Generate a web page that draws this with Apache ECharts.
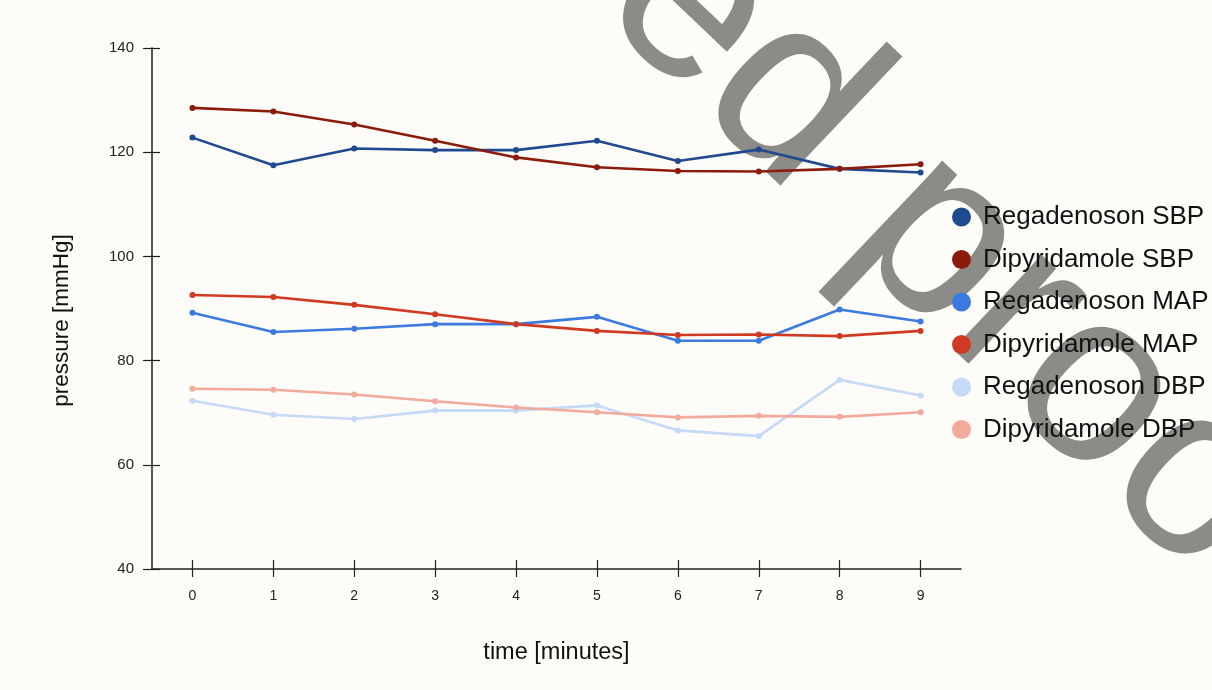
<!DOCTYPE html>
<html>
<head>
<meta charset="utf-8">
<script src="https://cdn.jsdelivr.net/npm/echarts@6/dist/echarts.min.js"></script>
<style>
  html, body { margin: 0; padding: 0; background: #fdfcf8; }
  #chart { width: 1212px; height: 690px; }
</style>
</head>
<body>
<div id="chart"></div>
<script>
// time points (minutes)
const minutes = ['0', '1', '2', '3', '4', '5', '6', '7', '8', '9'];

// pressure values (mmHg)
const regaSBP = [122.8, 117.5, 120.7, 120.4, 120.4, 122.2, 118.3, 120.5, 116.8, 116.1];
const dipySBP = [128.5, 127.8, 125.3, 122.2, 119.0, 117.1, 116.4, 116.3, 116.8, 117.7];
const regaMAP = [89.2, 85.5, 86.1, 87.0, 87.0, 88.4, 83.8, 83.8, 89.8, 87.5];
const dipyMAP = [92.6, 92.2, 90.7, 88.9, 87.0, 85.7, 84.9, 85.0, 84.7, 85.7];
const regaDBP = [72.3, 69.6, 68.8, 70.4, 70.4, 71.4, 66.6, 65.5, 76.3, 73.3];
const dipyDBP = [74.6, 74.4, 73.5, 72.2, 71.0, 70.1, 69.1, 69.4, 69.2, 70.1];

const seriesNames = [
    'Regadenoson SBP', 'Dipyridamole SBP',
    'Regadenoson MAP', 'Dipyridamole MAP',
    'Regadenoson DBP', 'Dipyridamole DBP',
];
const seriesData = [regaSBP, dipySBP, regaMAP, dipyMAP, regaDBP, dipyDBP];
const seriesColors = ['#1f4a8f', '#8b1c0c', '#3c7ae0', '#cf3a22', '#c6d9f7', '#f2aa9c'];

const chart = echarts.init(document.getElementById('chart'), null, { renderer: 'canvas' });

const FONT = 'Liberation Sans, Arial, sans-serif';
const AXIS_COLOR = '#222';

// shared axis look; a second copy of each axis carries the inward half of the ticks
const xBase = {
    type: 'category',
    data: minutes,
    boundaryGap: true,
    splitLine: { show: false },
};
const yBase = {
    type: 'value', min: 40, max: 140, interval: 20,
    splitLine: { show: false },
};

const option = {
    backgroundColor: '#fdfcf8',
    animation: false,
    color: seriesColors,
    grid: { left: 152, right: 251, top: 48, bottom: 121 },
    legend: {
        orient: 'vertical',
        left: 947,
        top: 199,
        z: 10,
        icon: 'circle',
        itemWidth: 19,
        itemHeight: 19,
        itemGap: 16.5,
        textStyle: { fontFamily: FONT, fontSize: 26, color: '#111', padding: [0, 0, 0, 7] },
        data: seriesNames,
    },
    xAxis: [
        Object.assign({}, xBase, {
            name: 'time [minutes]',
            nameLocation: 'middle',
            nameGap: 72,
            nameTextStyle: { fontFamily: FONT, fontSize: 23.5, color: '#111' },
            axisLine: { show: true, onZero: false, lineStyle: { color: AXIS_COLOR, width: 1.5 } },
            axisTick: { show: true, alignWithLabel: true, length: 8, lineStyle: { color: AXIS_COLOR, width: 1.2 } },
            axisLabel: { fontFamily: FONT, fontSize: 14, color: '#222', margin: 20 },
        }),
        Object.assign({}, xBase, {
            position: 'bottom',
            axisLine: { show: false },
            axisTick: { show: true, inside: true, alignWithLabel: true, length: 9, lineStyle: { color: AXIS_COLOR, width: 1.2 } },
            axisLabel: { show: false },
        }),
    ],
    yAxis: [
        Object.assign({}, yBase, {
            name: 'pressure [mmHg]',
            nameLocation: 'middle',
            nameGap: 79,
            nameTextStyle: { fontFamily: FONT, fontSize: 22.5, color: '#111', padding: [0, 24, 0, 0] },
            axisLine: { show: true, onZero: false, lineStyle: { color: AXIS_COLOR, width: 1.5 } },
            axisTick: { show: true, length: 9, lineStyle: { color: AXIS_COLOR, width: 1.2 } },
            axisLabel: { fontFamily: FONT, fontSize: 15, color: '#222', margin: 18 },
        }),
        Object.assign({}, yBase, {
            position: 'left',
            axisLine: { show: false, onZero: false },
            axisTick: { show: true, inside: true, length: 8, lineStyle: { color: AXIS_COLOR, width: 1.2 } },
            axisLabel: { show: false },
        }),
    ],
    series: seriesNames.map((name, i) => ({
        name: name,
        type: 'line',
        data: seriesData[i],
        symbol: 'circle',
        symbolSize: 6,
        lineStyle: { width: 2.6, color: seriesColors[i] },
        itemStyle: { color: seriesColors[i] },
        z: 5,
    })),
    graphic: {
        // watermark sits under the lines and legend
        z: 1,
        elements: [
            {
                type: 'text',
                x: 641,
                y: -40,
                rotation: -43.5 * Math.PI / 180,
                silent: true,
                style: {
                    text: 'ed proof',
                    fontFamily: FONT,
                    fontSize: 245,
                    fill: '#8c8b87',
                    textAlign: 'left',
                    textVerticalAlign: 'middle',
                },
            },
        ],
    },
};

chart.setOption(option);
</script>
</body>
</html>
